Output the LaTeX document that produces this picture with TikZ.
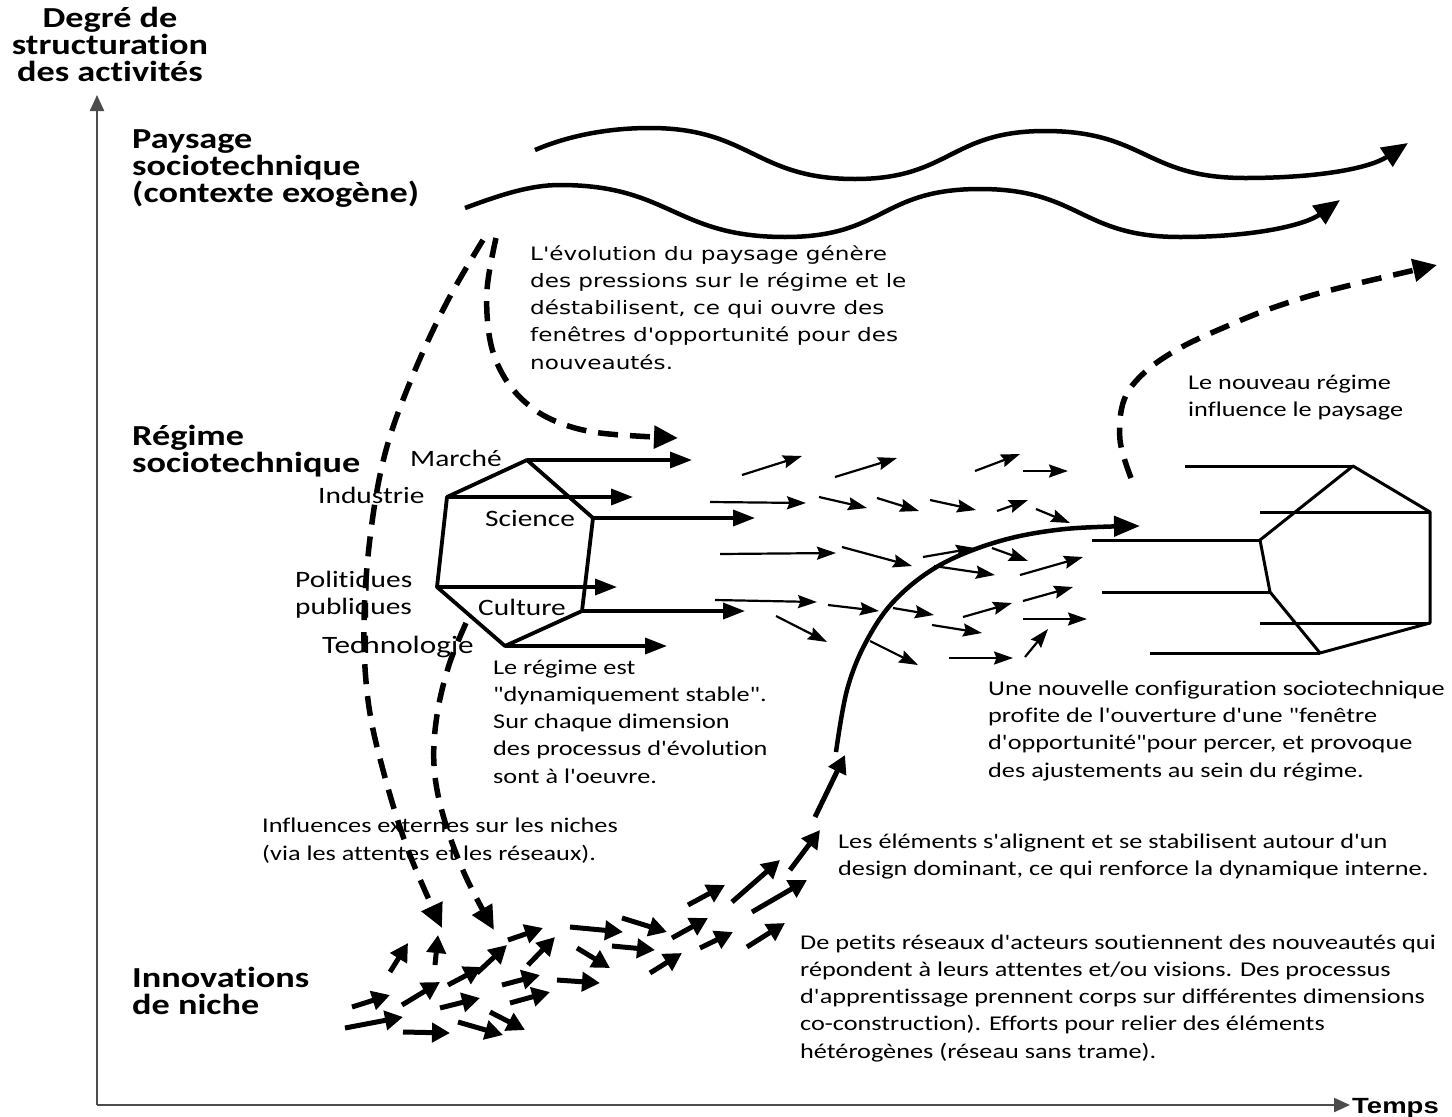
\documentclass[tikz,border=0pt]{standalone}
\usepackage{fontspec}
\setmainfont{Carlito}[FakeStretch=1.25, Ligatures={TeXOff,NoCommon}]
\newfontfamily\calfont{Carlito}[FakeStretch=1.25, Ligatures={TeXOff,NoCommon}]
\newfontfamily\verfont{DejaVu Sans}[FakeStretch=1.25, Ligatures={TeXOff,NoCommon}]
\newfontfamily\tempsfont{Liberation Sans}[FakeStretch=1.25]
\usetikzlibrary{arrows.meta}
\tikzset{
  biglab/.style={font=\calfont\bfseries\fontsize{29}{27}\selectfont, inner sep=0, anchor=base west, align=left},
  smalltxt/.style={font=\calfont\fontsize{21}{27.3}\selectfont, inner sep=0, anchor=base west, align=left},
  vertxt/.style={font=\verfont\fontsize{18.5}{27.3}\selectfont, inner sep=0, anchor=base west, align=left},
  dimlab/.style={font=\calfont\fontsize{23.5}{27}\selectfont, inner sep=0, anchor=base west, align=left},
  axisline/.style={line width=2.2pt, draw=black!70, -{Triangle[length=16pt,width=14pt]}},
  wave/.style={line width=4.5pt, -{Triangle[length=26pt,width=22pt]}},
  hexline/.style={line width=3.8pt, line join=round},
  newhex/.style={line width=3pt, line join=round},
  dimarrow/.style={line width=3.5pt, -{Triangle[length=22pt,width=16pt]}},
  thinarrow/.style={line width=2.2pt, -{Stealth[length=19pt,width=13pt,inset=2.5pt]}},
  nicharrow/.style={line width=5pt, -{Triangle[length=18pt,width=19pt]}},
  dasharrow/.style={line width=5.5pt, dash pattern=on 20pt off 12pt, -{Triangle[length=24pt,width=22pt]}},
  breakarrow/.style={line width=4.5pt, -{Triangle[length=26pt,width=20pt]}}
}
\begin{document}
\begin{tikzpicture}[x=1pt,y=-1pt]
\useasboundingbox (0,0) rectangle (1452,1117);
\fill[white] (0,0) rectangle (1452,1117);

% axes
\coordinate (origin) at (97,1105);
\coordinate (ytop) at (97,95);
\coordinate (xend) at (1350,1105);
\draw[axisline] (origin) -- (ytop);
\draw[axisline] (origin) -- (xend);
\node[font=\calfont\bfseries\fontsize{29}{27}\selectfont, inner sep=0, anchor=base, align=center] (yl) at (110,81) {Degré de\\structuration\\des activités};
\node[font=\tempsfont\bfseries\fontsize{22}{27}\selectfont, inner sep=0, anchor=base west] (xl) at (1352,1113) {Temps};

% level labels
\node[biglab] (land) at (132,202) {Paysage\\sociotechnique\\(contexte exogène)};
\node[biglab] (reg) at (132,472) {Régime\\sociotechnique};
\node[biglab] (niche) at (132,1014) {Innovations\\de niche};

% landscape waves
\coordinate (w1s) at (535,150);
\coordinate (w1e) at (1408,143);
\draw[wave] (w1s) .. controls (570,135) and (610,128) .. (650,128)
  .. controls (750,128) and (755,179) .. (855,179)
  .. controls (950,179) and (950,131) .. (1045,131)
  .. controls (1145,131) and (1145,178) .. (1245,178)
  .. controls (1320,178) and (1370,168) .. (w1e);
\coordinate (w2s) at (465,208);
\coordinate (w2e) at (1340,200);
\draw[wave] (w2s) .. controls (500,195) and (530,185) .. (560,185)
  .. controls (670,185) and (675,237) .. (785,237)
  .. controls (885,237) and (880,189) .. (980,189)
  .. controls (1080,189) and (1080,237) .. (1180,237)
  .. controls (1255,237) and (1305,225) .. (w2e);

% regime hexagon
\coordinate (mar) at (527,460);
\coordinate (ind) at (447,497);
\coordinate (pol) at (437,587);
\coordinate (tec) at (505,646);
\coordinate (cul) at (582,611);
\coordinate (sci) at (593,518);
\draw[hexline] (mar) -- (ind) -- (pol) -- (tec) -- (cul) -- (sci) -- cycle;
\coordinate (mar2) at (692,460);
\coordinate (ind2) at (633,497);
\coordinate (sci2) at (755,518);
\coordinate (pol2) at (617,587);
\coordinate (cul2) at (745,611);
\coordinate (tec2) at (667,646);
\draw[dimarrow] (mar) -- (mar2);
\draw[dimarrow] (ind) -- (ind2);
\draw[dimarrow] (sci) -- (sci2);
\draw[dimarrow] (pol) -- (pol2);
\draw[dimarrow] (cul) -- (cul2);
\draw[dimarrow] (tec) -- (tec2);
\node[dimlab] (lmar) at (410,466) {Marché};
\node[dimlab] (lind) at (318,503) {Industrie};
\node[dimlab] (lsci) at (485,526) {Science};
\node[dimlab] (lpol) at (295,614) {Politiques\\publiques};
\node[dimlab] (lcul) at (478,615) {Culture};
\node[dimlab, font=\calfont\fontsize{25}{27}\selectfont] (ltec) at (322,653) {Technologie};

% new regime hexagon
\coordinate (nt) at (1353,466);
\coordinate (nrt) at (1430,512);
\coordinate (nrb) at (1430,623);
\coordinate (nb) at (1320,653);
\coordinate (nlb) at (1270,592);
\coordinate (nl) at (1260,540);
\draw[newhex] (nt) -- (nrt) -- (nrb) -- (nb) -- (nlb) -- (nl) -- cycle;
\coordinate (nt0) at (1185,466);
\coordinate (nrt0) at (1260,512);
\coordinate (nl0) at (1092,540);
\coordinate (nlb0) at (1102,592);
\coordinate (nrb0) at (1260,623);
\coordinate (nb0) at (1150,653);
\draw[newhex] (nt0) -- (nt);
\draw[newhex] (nrt0) -- (nrt);
\draw[newhex] (nl0) -- (nl);
\draw[newhex] (nlb0) -- (nlb);
\draw[newhex] (nrb0) -- (nrb);
\draw[newhex] (nb0) -- (nb);

% thin regime arrows
\foreach \a/\b in {{742,475}/{802,456},{835,477}/{897,458},{975,471}/{1020,454},{1023,471}/{1068,471},
  {710,502}/{806,503},{819,497}/{867,508},{877,498}/{919,511},{930,500}/{976,510},{997,511}/{1028,500},{1036,509}/{1070,523},
  {720,554}/{836,553},{842,547}/{912,566},{923,557}/{975,548},{992,548}/{1028,561},{934,566}/{995,575},{1020,575}/{1083,557},
  {715,600}/{817,602},{828,605}/{879,611},{893,608}/{934,615},{963,617}/{1012,603},{1023,601}/{1073,587},
  {776,616}/{827,642},{932,625}/{982,633},{1023,619}/{1087,619},
  {870,641}/{918,665},{949,658}/{1013,658},{1025,657}/{1048,629}}
  \draw[thinarrow] (\a) -- (\b);

% niche arrows
\foreach \a/\b in {{352,1007}/{390,995},{345,1028}/{403,1017},{403,1032}/{450,1033},{458,1022}/{503,1035},
  {490,1012}/{525,1030},{402,1005}/{440,982},{440,1008}/{480,998},{510,1003}/{550,992},{502,985}/{540,975},
  {448,985}/{482,967},{477,973}/{507,945},{508,940}/{543,928},{528,965}/{555,937},{390,972}/{408,943},
  {435,965}/{438,935},{577,948}/{610,968},{557,980}/{600,983},{570,927}/{623,932},{612,946}/{655,950},
  {622,918}/{667,932},{650,973}/{682,953},{672,938}/{708,918},{700,948}/{733,932},{688,905}/{725,885},
  {732,902}/{780,860},{747,947}/{785,923},{752,912}/{807,880},{790,870}/{820,830},{815,817}/{845,755}}
  \draw[nicharrow] (\a) -- (\b);

% dashed influences
\draw[dasharrow] plot[smooth, tension=0.6] coordinates {(496,238) (487,290) (490,340) (503,375) (525,402) (555,421) (600,433) (678,438)};
\draw[dasharrow] plot[smooth, tension=0.6] coordinates {(483,240) (447,302) (413,375) (386,450) (371,530) (364,620) (368,700) (383,770) (408,850) (442,928)};
\draw[dasharrow] plot[smooth, tension=0.6] coordinates {(466,623) (449,665) (437,715) (434,765) (443,815) (465,875) (494,930)};
\draw[dasharrow] plot[smooth, tension=0.6] coordinates {(1131,478) (1120,440) (1124,400) (1145,372) (1180,348) (1225,327) (1275,307) (1335,289) (1437,265)};

% breakthrough
\draw[breakarrow] plot[smooth, tension=0.6] coordinates {(836,752) (847,690) (866,642) (895,600) (940,565) (1000,541) (1065,529) (1140,526)};

% texts
\node[vertxt] (t1) at (530,369.2) {L'évolution du paysage génère\\des pressions sur le régime et le\\déstabilisent, ce qui ouvre des\\fenêtres d'opportunité pour des\\nouveautés.};
\node[smalltxt, font=\calfont\fontsize{21}{27}\selectfont] (t2) at (1188,416) {Le nouveau régime\\influence le paysage};
\node[smalltxt] (t3) at (493,783.2) {Le régime est\\"dynamiquement stable".\\Sur chaque dimension\\des processus d'évolution\\sont à l'oeuvre.};
\node[smalltxt, font=\calfont\fontsize{21}{27.4}\selectfont] (t4) at (988,777.2) {Une nouvelle configuration sociotechnique\\profite de l'ouverture d'une "fenêtre\\d'opportunité"pour percer, et provoque\\des ajustements au sein du régime.};
\node[smalltxt, font=\calfont\fontsize{21}{28}\selectfont] (t5) at (262,860) {Influences externes sur les niches\\(via les attentes et les réseaux).};
\node[smalltxt, font=\calfont\fontsize{21}{27}\selectfont] (t6) at (838,875) {Les éléments s'alignent et se stabilisent autour d'un\\design dominant, ce qui renforce la dynamique interne.};
\node[smalltxt] (t7) at (800,1058.2) {De petits réseaux d'acteurs soutiennent des nouveautés qui\\répondent à leurs attentes et/ou visions. Des processus\\d'apprentissage prennent corps sur différentes dimensions\\co-construction). Efforts pour relier des éléments\\hétérogènes (réseau sans trame).};
\end{tikzpicture}
\end{document}
